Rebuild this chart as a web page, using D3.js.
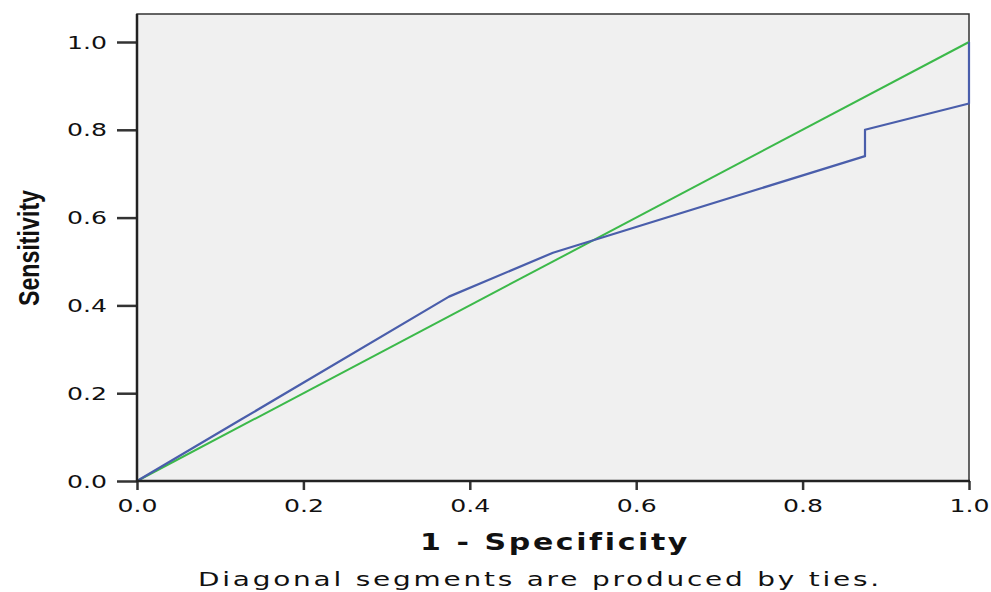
<!DOCTYPE html>
<html>
<head>
<meta charset="utf-8">
<script src="https://cdn.jsdelivr.net/npm/d3@7"></script>
<style>
	body { margin: 0; background: #fff; }
	svg text { font-family: 'DejaVu Sans', 'Liberation Sans', Arial, sans-serif; fill: #111; }
	.tick text { font-size: 17px; }
	.tick line { stroke: #333; stroke-width: 2.5; }
	.domain { display: none; }
</style>
</head>
<body>
<div id="chart"></div>
<script>

// ROC curve points (1 - specificity, sensitivity)
var rocX = [0, 0.125, 0.375, 0.5, 0.875, 0.875, 1.0, 1.0]
var rocY = [0, 0.14, 0.42, 0.52, 0.74, 0.80, 0.86, 1.0]

// reference line
var refX = [0, 1]
var refY = [0, 1]

var tickVals = [0, 0.2, 0.4, 0.6, 0.8, 1.0]

var W = 991, H = 592

var plot = {
	'left' : 137,
	'right' : 969,
	'top' : 14,
	'bottom' : 481
}

var svg = d3.select('#chart')
	.append('svg')
	.attr('width', W)
	.attr('height', H)

var x = d3.scaleLinear()
	.domain([0, 1])
	.range([plot.left, plot.right])

var y = d3.scaleLinear()
	.domain([0, 1])
	.range([plot.bottom, 42])

// plot background + frame
svg.append('rect')
	.attr('x', plot.left)
	.attr('y', plot.top)
	.attr('width', plot.right - plot.left)
	.attr('height', plot.bottom - plot.top)
	.style('fill', '#f0f0f0')
	.style('stroke', '#333')
	.style('stroke-width', 1.5)

var line = d3.line()
	.x(function(d) { return x(d[0]) })
	.y(function(d) { return y(d[1]) })

svg.append('path')
	.datum(d3.zip(refX, refY))
	.attr('d', line)
	.style('fill', 'none')
	.style('stroke', '#3cb94a')
	.style('stroke-width', 2)

svg.append('path')
	.datum(d3.zip(rocX, rocY))
	.attr('d', line)
	.style('fill', 'none')
	.style('stroke', '#4a5eab')
	.style('stroke-width', 2.2)
	.style('stroke-linejoin', 'round')

// axes
var axisLeft = d3.axisLeft(y)
	.tickValues(tickVals)
	.tickFormat(d3.format('.1f'))
	.tickSize(20)
	.tickPadding(10)

svg.append('g')
	.attr('transform', 'translate(' + plot.left + ',0)')
	.call(axisLeft)
	.selectAll('.tick text')
	.attr('dy', '0.36em')
	.attr('textLength', 40)
	.attr('lengthAdjust', 'spacingAndGlyphs')

var axisBottom = d3.axisBottom(x)
	.tickValues(tickVals)
	.tickFormat(d3.format('.1f'))
	.tickSize(9)
	.tickPadding(10)

svg.append('g')
	.attr('transform', 'translate(0,' + plot.bottom + ')')
	.call(axisBottom)
	.selectAll('.tick text')
	.attr('textLength', 40)
	.attr('lengthAdjust', 'spacingAndGlyphs')

// thick axis lines
svg.append('line')
	.attr('x1', plot.left).attr('x2', plot.left)
	.attr('y1', plot.top).attr('y2', plot.bottom + 1)
	.style('stroke', '#222')
	.style('stroke-width', 2.5)

svg.append('line')
	.attr('x1', plot.left - 1).attr('x2', plot.right + 1)
	.attr('y1', plot.bottom).attr('y2', plot.bottom)
	.style('stroke', '#222')
	.style('stroke-width', 2.5)

// titles
svg.append('text')
	.attr('x', 555)
	.attr('y', 550)
	.attr('text-anchor', 'middle')
	.attr('textLength', 270)
	.attr('lengthAdjust', 'spacingAndGlyphs')
	.style('font-size', '23px')
	.style('font-weight', 'bold')
	.style('letter-spacing', '2px')
	.text('1 - Specificity')

svg.append('text')
	.attr('x', 540)
	.attr('y', 586)
	.attr('text-anchor', 'middle')
	.attr('textLength', 684)
	.attr('lengthAdjust', 'spacingAndGlyphs')
	.style('font-size', '20px')
	.style('letter-spacing', '2px')
	.text('Diagonal segments are produced by ties.')

svg.append('text')
	.attr('transform', 'translate(39,248) rotate(-90)')
	.attr('text-anchor', 'middle')
	.attr('textLength', 116)
	.attr('lengthAdjust', 'spacingAndGlyphs')
	.style('font-family', "'Liberation Sans Narrow', 'Liberation Sans', Arial, sans-serif")
	.style('font-size', '30px')
	.style('font-weight', 'bold')
	.text('Sensitivity')

</script>
</body>
</html>
